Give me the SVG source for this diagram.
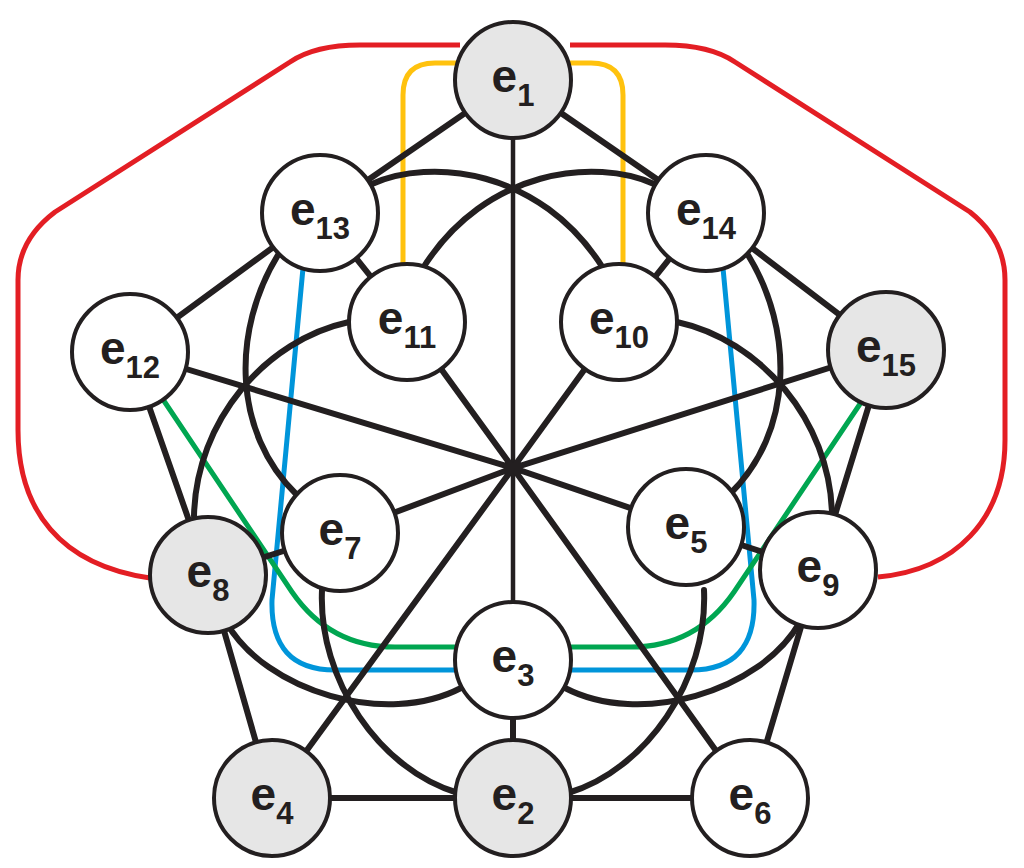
<svg xmlns="http://www.w3.org/2000/svg" width="1024" height="868" viewBox="0 0 1024 868">
<style>
.l{stroke:#231f20;stroke-width:6;fill:none;stroke-linecap:round}
.v{stroke:#231f20;stroke-width:4.5;fill:none}
.c{fill:none;stroke-width:5;stroke-linejoin:round}
.n{fill:#fff;stroke:#231f20;stroke-width:4}
.g{fill:#e6e6e6}
.t{font-family:"Liberation Sans",Arial,sans-serif;font-weight:bold;font-size:46px;fill:#231f20;text-anchor:middle}
.s{font-size:31px}
</style>
<rect width="1024" height="868" fill="#fff"/>
<g id="connectors">
<path class="c" stroke="#e31e24" d="M150,578 C60,565 18,510 18,430 L18,280 Q18,240 55,212 L290,62 Q315,45 360,45 L460,45"/>
<path class="c" stroke="#e31e24" d="M570,45 L665,45 Q710,45 735,62 L970,212 Q1005,240 1005,280 L1005,440 C1005,520 955,570 878,577"/>
<path class="c" stroke="#ffc20e" d="M403,265 V95 Q403,63 435,63 H460"/>
<path class="c" stroke="#ffc20e" d="M623,265 V95 Q623,63 591,63 H566"/>
<path class="c" stroke="#0095da" d="M303,268 L272,600 Q270,670 335,670 L456,670"/>
<path class="c" stroke="#0095da" d="M723,268 L754,600 Q756,670 691,670 L570,670"/>
<path class="c" stroke="#00a651" d="M160,395 L292,592 Q330,647 395,647 L456,647"/>
<path class="c" stroke="#00a651" d="M866,395 L734,592 Q696,647 631,647 L570,647"/>
<path class="v" d="M513,80 V660"/>
<path class="l" d="M513,80 L320,213 L130,352 L208,575 L272,798 L750,798 L818,570 L886,350 L706,213 Z"/>
<path class="l" d="M320,213 L407,322 M706,213 L619,322 M513,660 L513,798 M208,575 L340,533 M686,527 L818,570"/>
<path class="l" d="M130,352 L513,468 L886,350 M272,798 L513,468 L750,798 M407,322 L513,468 L619,322 M340,533 L513,468 L686,527"/>
<path class="l" d="M372,184 C430,158 540,168 603,268"/>
<path class="l" d="M654,184 C596,158 486,168 423,268"/>
<path class="l" d="M677,322 C760,340 830,420 832,514"/>
<path class="l" d="M349,322 C266,340 196,420 194,516"/>
<path class="l" d="M800,622 C760,692 640,727 565,688"/>
<path class="l" d="M226,622 C266,692 386,727 461,688"/>
<path class="l" d="M278,255 C232,330 232,432 297,495"/>
<path class="l" d="M748,255 C794,330 794,432 729,495"/>
<path class="l" d="M322,590 C318,680 380,770 458,793"/>
<path class="l" d="M704,590 C708,680 646,770 568,793"/>
</g>
<g id="e1"><circle class="n g" cx="513" cy="80" r="58"/><text class="t" x="513" y="92">e<tspan class="s" dy="14">1</tspan></text></g>
<g id="e13"><circle class="n" cx="320" cy="213" r="58"/><text class="t" x="320" y="225">e<tspan class="s" dy="14">13</tspan></text></g>
<g id="e14"><circle class="n" cx="706" cy="213" r="58"/><text class="t" x="706" y="225">e<tspan class="s" dy="14">14</tspan></text></g>
<g id="e11"><circle class="n" cx="407" cy="322" r="58"/><text class="t" x="407" y="334">e<tspan class="s" dy="14">11</tspan></text></g>
<g id="e10"><circle class="n" cx="619" cy="322" r="58"/><text class="t" x="619" y="334">e<tspan class="s" dy="14">10</tspan></text></g>
<g id="e12"><circle class="n" cx="130" cy="352" r="58"/><text class="t" x="130" y="364">e<tspan class="s" dy="14">12</tspan></text></g>
<g id="e15"><circle class="n g" cx="886" cy="350" r="58"/><text class="t" x="886" y="362">e<tspan class="s" dy="14">15</tspan></text></g>
<g id="e7"><circle class="n" cx="340" cy="533" r="58"/><text class="t" x="340" y="545">e<tspan class="s" dy="14">7</tspan></text></g>
<g id="e5"><circle class="n" cx="686" cy="527" r="58"/><text class="t" x="686" y="539">e<tspan class="s" dy="14">5</tspan></text></g>
<g id="e8"><circle class="n g" cx="208" cy="575" r="58"/><text class="t" x="208" y="587">e<tspan class="s" dy="14">8</tspan></text></g>
<g id="e9"><circle class="n" cx="818" cy="570" r="58"/><text class="t" x="818" y="582">e<tspan class="s" dy="14">9</tspan></text></g>
<g id="e3"><circle class="n" cx="513" cy="660" r="58"/><text class="t" x="513" y="672">e<tspan class="s" dy="14">3</tspan></text></g>
<g id="e4"><circle class="n g" cx="272" cy="798" r="58"/><text class="t" x="272" y="810">e<tspan class="s" dy="14">4</tspan></text></g>
<g id="e2"><circle class="n g" cx="513" cy="798" r="58"/><text class="t" x="513" y="810">e<tspan class="s" dy="14">2</tspan></text></g>
<g id="e6"><circle class="n" cx="750" cy="798" r="58"/><text class="t" x="750" y="810">e<tspan class="s" dy="14">6</tspan></text></g>
</svg>
